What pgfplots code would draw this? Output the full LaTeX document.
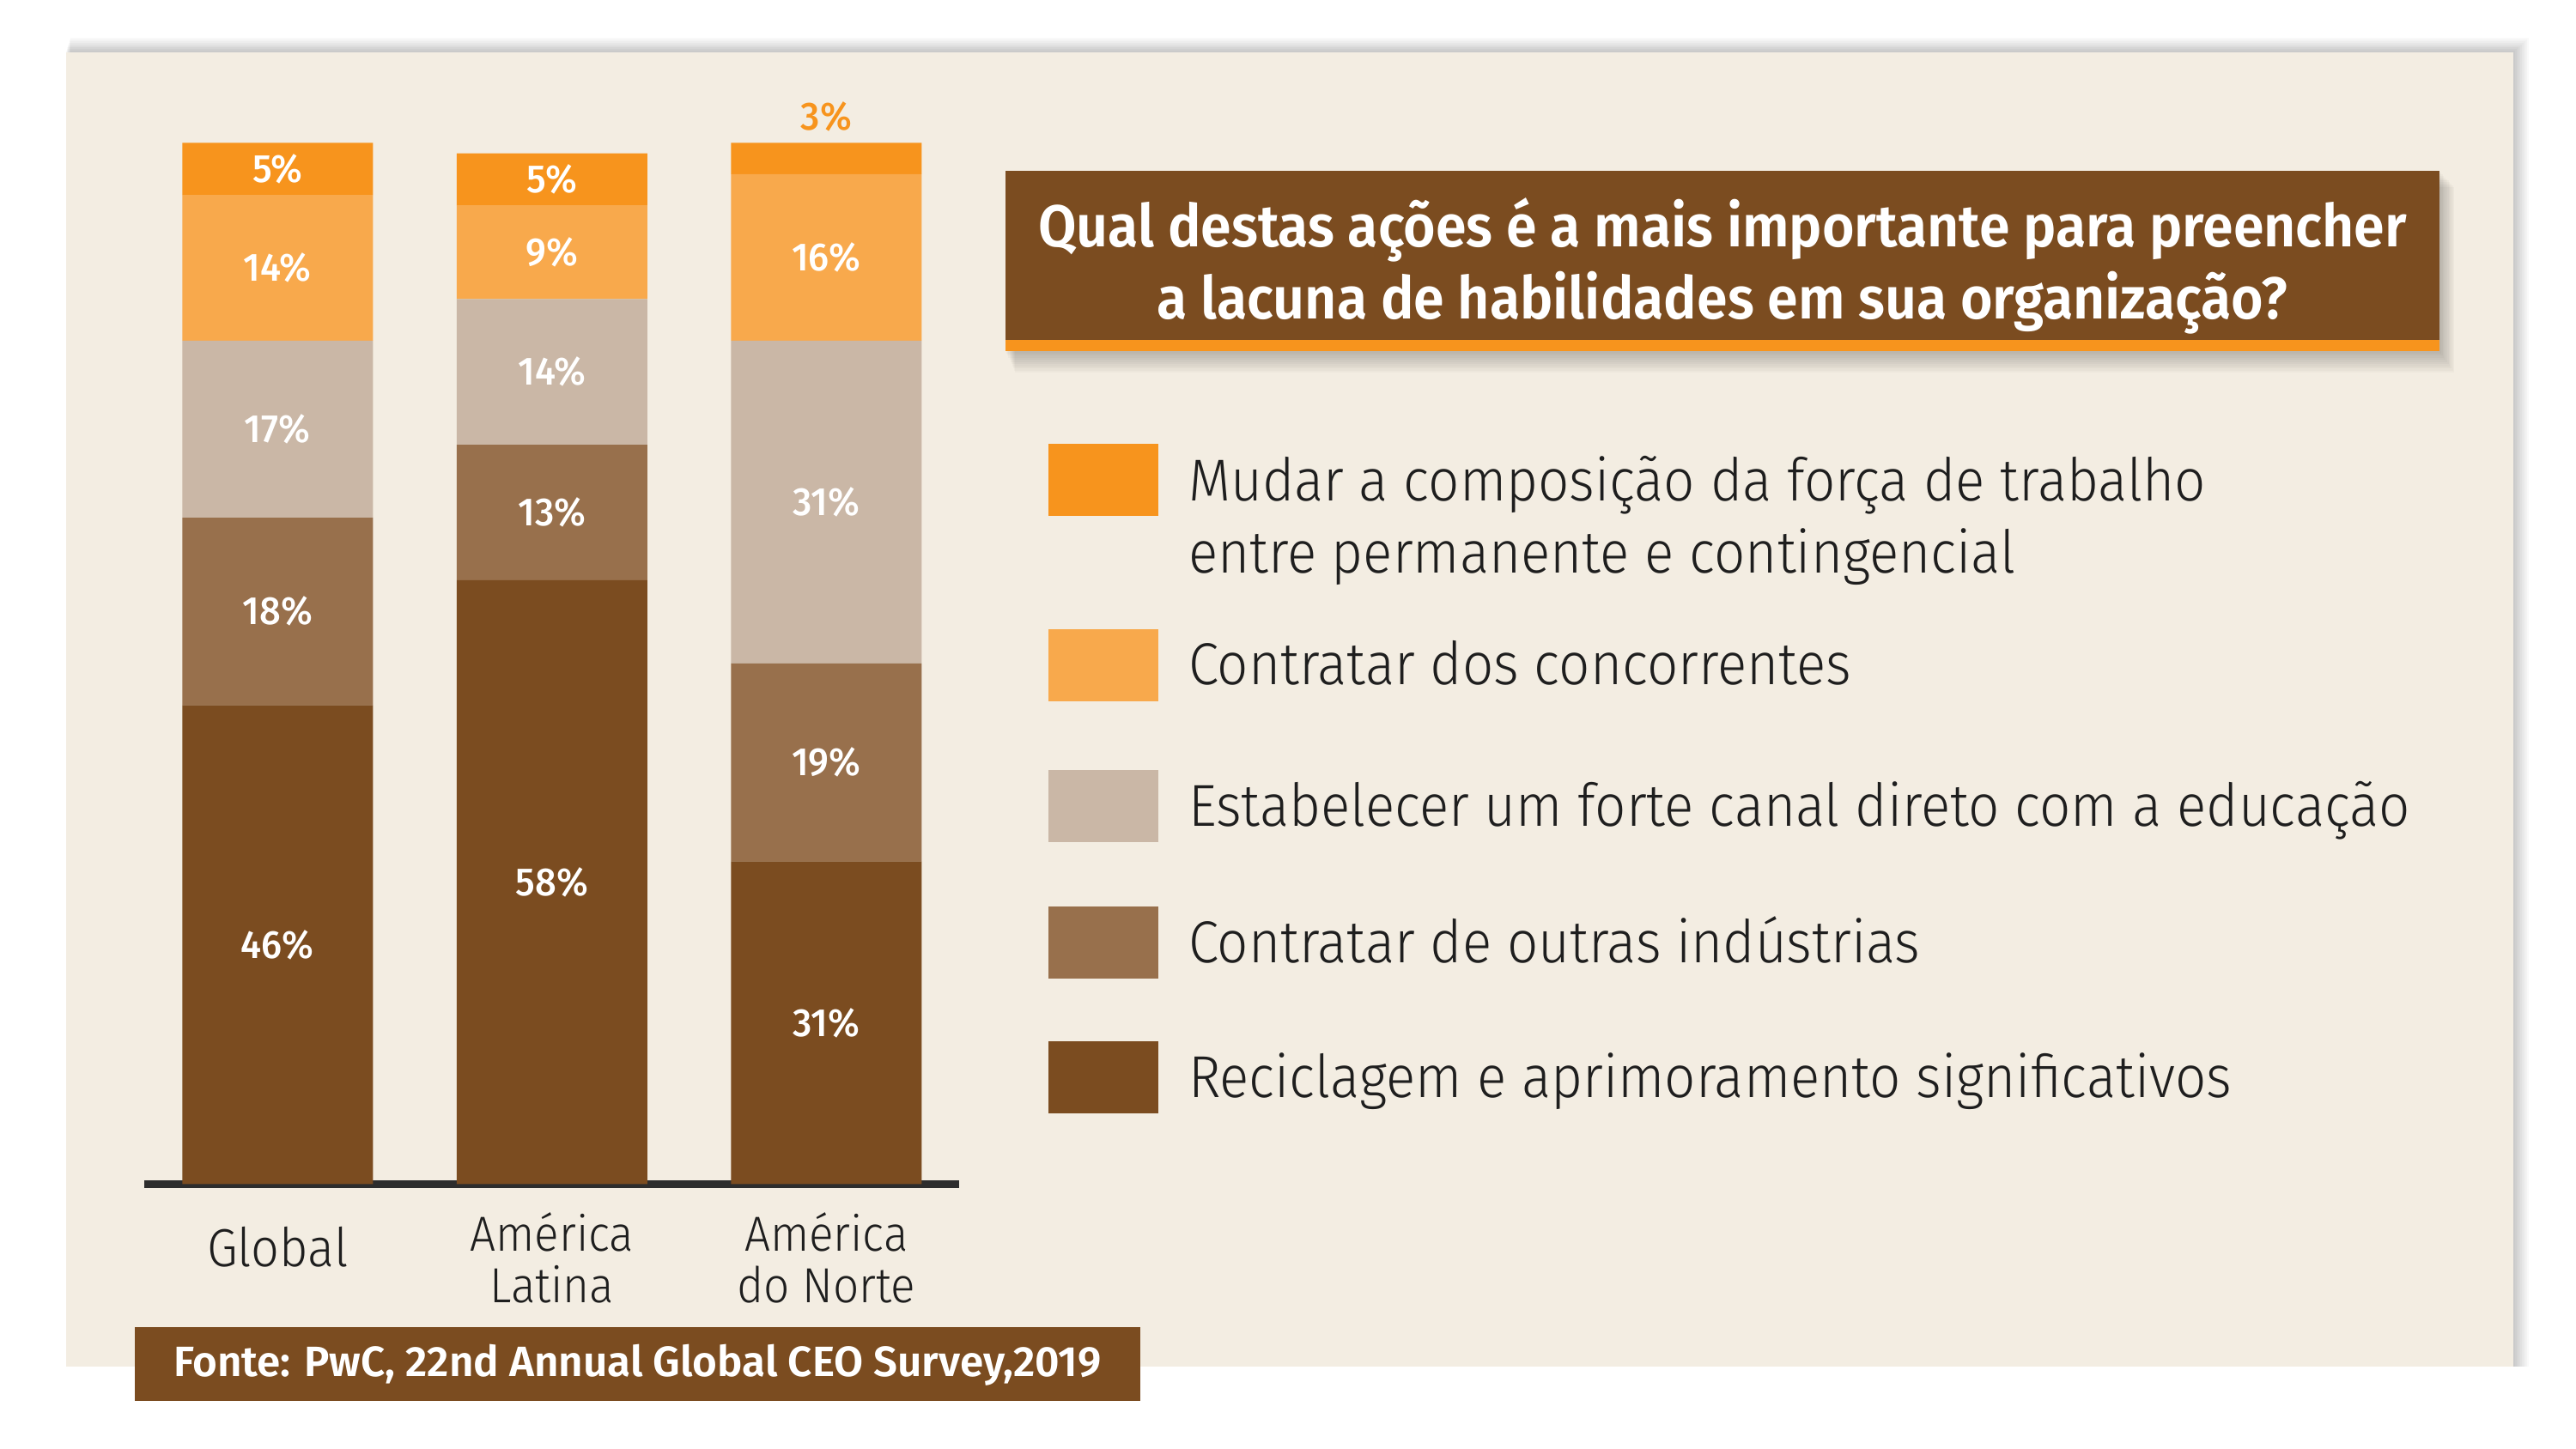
\documentclass[border=0pt]{standalone}
\usepackage{pgfplots}
\pgfplotsset{compat=1.18}
\usepackage{pgfplotstable}
\usepackage{fontspec}
\setmainfont{Fira Sans}
\newfontfamily\lightf{Fira Sans Light}[FakeStretch=0.925]
\newfontfamily\medf{Fira Sans Medium}[FakeStretch=0.95]
\newfontfamily\boldf{Fira Sans SemiBold}[FakeStretch=0.935]
\newfontfamily\srcf{Fira Sans SemiBold}

\definecolor{mudar}{HTML}{F7941D}
\definecolor{conc}{HTML}{F8A94C}
\definecolor{edu}{HTML}{CAB7A6}
\definecolor{outras}{HTML}{98704C}
\definecolor{recic}{HTML}{7B4C20}
\definecolor{panel}{HTML}{F3EDE2}
\definecolor{baseline}{HTML}{2D2D2D}
\definecolor{ink}{HTML}{1E1E1E}

% shares per region (%), bottom segment first
\pgfplotstableread{
x re outras edu conc mudar
0 46 18 17 14 5
1 58 13 14 9 5
2 31 19 31 16 3
}\shares

\begin{document}
\begin{tikzpicture}[x=0.5pt,y=0.5pt]
\useasboundingbox (0,0) rectangle (1568,882);
\fill[white] (0,0) rectangle (1568,882);

% panel with a soft shadow on top and right
\foreach \s in {1,...,9} {\fill[black,opacity=0.025] (40+\s*0.3,50) rectangle (1530+\s,850+\s);}
\fill[panel] (40,50) rectangle (1530,850);

% question box
\foreach \s in {1,...,10} {\fill[black,opacity=0.022] (612+\s*0.6,668-\s*1.3) rectangle (1485+\s*0.9,778-\s);}
\fill[recic] (612,675) rectangle (1485,778);
\fill[mudar] (612,668) rectangle (1485,675);
\node[align=center, text=white, font=\boldf\fontsize{18}{22}\selectfont] at (1048.5,720)
  {Qual destas ações é a mais importante para preencher\\a lacuna de habilidades em sua organização?};

\coordinate (plotorigin) at (88,161);

% stacked bars
\begin{axis}[
  at={(plotorigin)}, anchor=south west,
  scale only axis, width=248pt, height=317pt,
  xmin=-0.485, xmax=2.485, ymin=0, ymax=100,
  ybar stacked, bar width=58pt,
  axis x line*=bottom, axis y line=none,
  x axis line style={-, line width=2.5pt, color=baseline},
  xtick={0,1,2}, major tick length=0pt,
  xticklabels={{\raisebox{11pt}{\fontsize{16.3}{16.3}\selectfont Global}}, {América\\Latina}, {América\\do Norte}},
  xticklabel style={anchor=base, yshift=-36pt, align=center,
    font=\lightf\fontsize{15}{15.5}\selectfont, text=ink},
  clip=false,
]
\addplot[fill=recic, draw=none] table[x=x, y=re] {\shares};
\addplot[fill=outras, draw=none] table[x=x, y=outras] {\shares};
\addplot[fill=edu, draw=none] table[x=x, y=edu] {\shares};
\addplot[fill=conc, draw=none] table[x=x, y=conc] {\shares};
\addplot[fill=mudar, draw=none] table[x=x, y=mudar] {\shares};
\end{axis}

% segment labels
\begin{axis}[
  at={(plotorigin)}, anchor=south west,
  scale only axis, width=248pt, height=317pt,
  xmin=-0.485, xmax=2.485, ymin=0, ymax=100,
  hide axis, clip=false,
  nodes near coords, point meta=explicit symbolic,
  every node near coord/.append style={anchor=center, text=white,
    font=\medf\fontsize{12}{13}\selectfont},
]
\addplot[draw=none, mark=none] coordinates {
  (0,23)[46\%] (0,55)[18\%] (0,72.5)[17\%] (0,88)[14\%] (0,97.5)[5\%]
  (1,29)[58\%] (1,64.5)[13\%] (1,78)[14\%] (1,89.5)[9\%] (1,96.5)[5\%]
  (2,15.5)[31\%] (2,40.5)[19\%] (2,65.5)[31\%] (2,89)[16\%]};
\addplot[draw=none, mark=none, nodes near coords style={anchor=south, text=mudar}]
  coordinates {(2,100)[3\%]};
\end{axis}

% legend
\begin{scope}[every node/.style={anchor=base west, inner sep=0, text=ink,
    font=\lightf\fontsize{18}{22}\selectfont}]
\fill[mudar]  (638,568) rectangle (705,612);
\fill[conc]   (638,455) rectangle (705,499);
\fill[edu]    (638,369) rectangle (705,413);
\fill[outras] (638,286) rectangle (705,330);
\fill[recic]  (638,204) rectangle (705,248);
\node at (723,577) {Mudar a composição da força de trabalho};
\node at (723,533) {entre permanente e contingencial};
\node at (723,465) {Contratar dos concorrentes};
\node at (723,379) {Estabelecer um forte canal direto com a educação};
\node at (723,296) {Contratar de outras indústrias};
\node at (723,214) {Reciclagem e aprimoramento significativos};
\end{scope}

% source
\fill[recic] (82,29) rectangle (694,74);
\node[text=white, font=\srcf\fontsize{12.9}{14}\selectfont] at (388,51)
  {Fonte: PwC, 22nd Annual Global CEO Survey,2019};
\end{tikzpicture}
\end{document}
